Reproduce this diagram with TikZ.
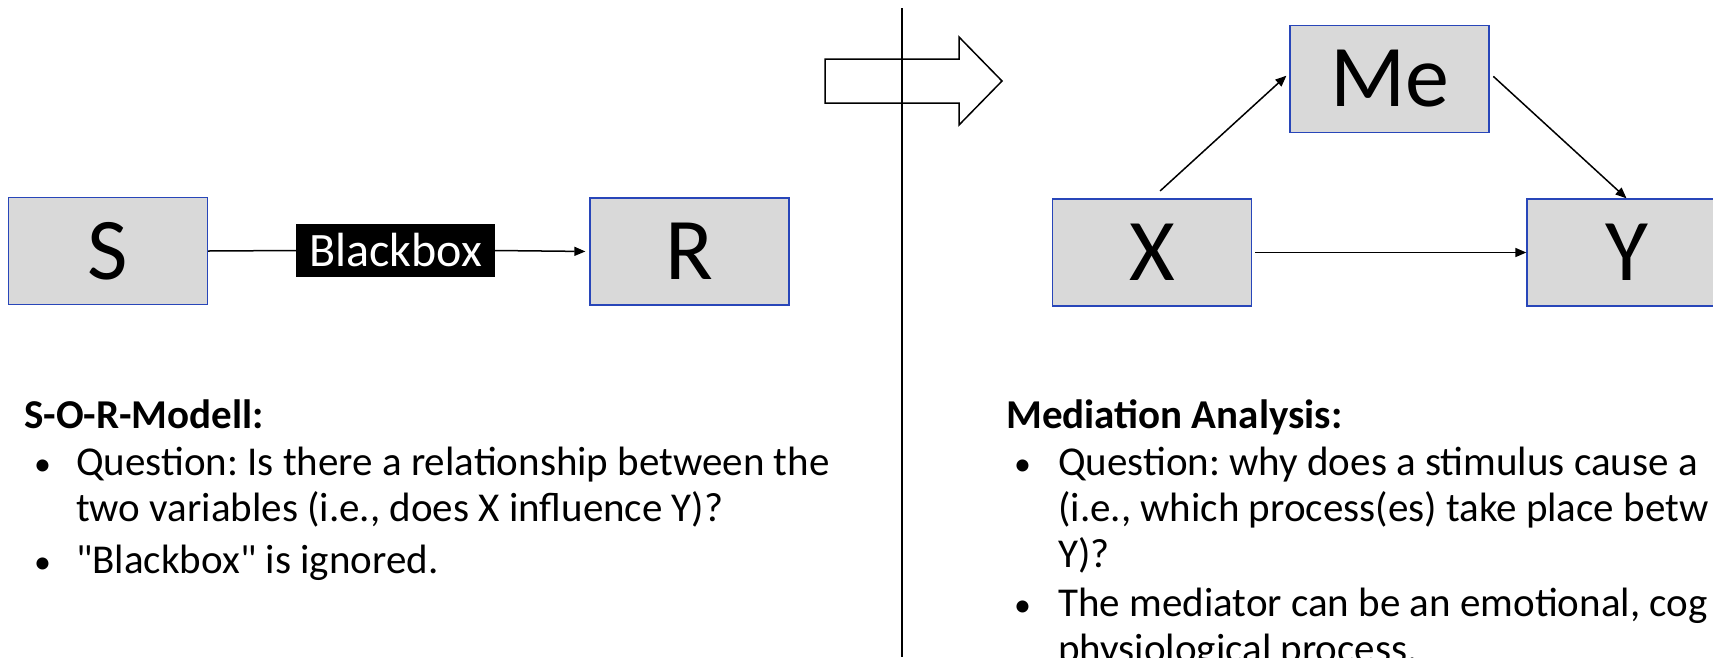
\documentclass[tikz,border=0pt]{standalone}
\usepackage{fontspec}
\setmainfont{Carlito}[Ligatures=TeXOff]
\usepackage{tikz}
\usetikzlibrary{arrows.meta}
\frenchspacing

\definecolor{boxfill}{RGB}{217,217,217}
\definecolor{boxline}{RGB}{40,70,185}

\tikzset{
  varbox/.style={draw=boxline, fill=boxfill, line width=1.3pt, minimum width=199, minimum height=107, inner sep=0, font=\fontsize{88}{88}\selectfont},
  arr/.style={line width=1.5pt, -{Triangle[length=11pt,width=9pt]}},
  bodytxt/.style={anchor=base west, inner sep=0, font=\fontsize{41}{48}\selectfont},
  headtxt/.style={bodytxt, font=\fontsize{41}{48}\selectfont\bfseries},
  dottxt/.style={bodytxt, font=\fontsize{34}{48}\selectfont},
}

\begin{document}
\begin{tikzpicture}[x=1pt,y=1pt,yscale=-1,xscale=1]
\useasboundingbox (0,0) rectangle (1713,657);
\clip (0,0) rectangle (1713,657);

% Boxes
\node[varbox] (S) at (108,251) {S};
\node[varbox] (R) at (689.5,251.5) {R};
\node[varbox] (X) at (1152,252.5) {X};
\node[varbox] (Me) at (1389.5,79) {Me};
\node[varbox] (Y) at (1626.5,252.5) {Y};

% Blackbox
\node[fill=black, text=white, minimum width=199, minimum height=53, inner sep=0, font=\fontsize{48}{48}\selectfont] (bb) at (395.5,250.5) {Blackbox};

% Connectors
\draw[line width=1.5pt] (S.east) -- (bb.west);
\draw[arr, shorten >=4pt] (bb.east) -- (R.west);
\draw[arr, shorten <=11pt, shorten >=4pt] (X.north) -- ([yshift=-6pt]Me.west);
\draw[arr, shorten <=3pt] (X.east) -- (Y.west);
\draw[arr, shorten <=5pt] ([yshift=-6pt]Me.east) -- (Y.north);

% Divider and block arrow
\coordinate (divtop) at (902,8);
\coordinate (divbot) at (902,657);
\draw[line width=1.8pt] (divtop) -- (divbot);
\draw[line width=1.5pt] (825,59) -- (959,59) -- (959,37) -- (1002,81) -- (959,125) -- (959,103) -- (825,103) -- cycle;

% Text Node
\node[headtxt] (sorhead) at (24,428) {S-O-R-Modell:};
\node[dottxt] (sorb1) at (34,475) {•};
\node[bodytxt] (sorq1) at (76,475) {Question: Is there a relationship between the};
\node[bodytxt] (sorq2) at (76,521) {two variables (i.e., does X influence Y)?};
\node[dottxt] (sorb2) at (34,573) {•};
\node[bodytxt] (sorq3) at (76,573) {"Blackbox" is ignored.};

% Text Node
\node[headtxt] (medhead) at (1006,428) {Mediation Analysis:};
\node[dottxt] (medb1) at (1014,475) {•};
\node[bodytxt] (medq1) at (1058,475) {Question: why does a stimulus cause a};
\node[bodytxt] (medq2) at (1058,521) {(i.e., which process(es) take place betw};
\node[bodytxt] (medq3) at (1058,567) {Y)?};
\node[dottxt] (medb2) at (1014,616) {•};
\node[bodytxt] (medq4) at (1058,616) {The mediator can be an emotional, cog};
\node[bodytxt] (medq5) at (1058,662) {physiological process.};
\end{tikzpicture}
\end{document}
